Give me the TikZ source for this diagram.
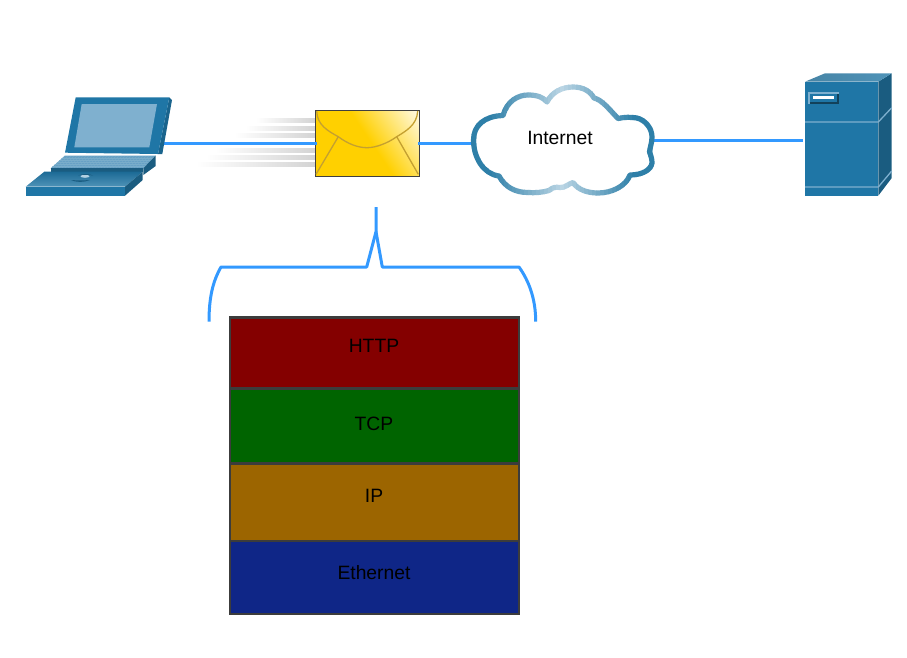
\documentclass[tikz,border=0pt]{standalone}
\usepackage{fontspec}
\setmainfont{Liberation Sans}
\definecolor{wireblue}{HTML}{3399FF}
\definecolor{ciscoblue}{HTML}{1F76A6}
\definecolor{ciscodark}{HTML}{1A5C80}
\definecolor{ciscolight}{HTML}{7FB0CF}
\definecolor{ciscotop}{HTML}{4F93B8}
\definecolor{clouddark}{HTML}{2E7FA8}
\definecolor{cloudlight}{HTML}{BAD5E4}
\definecolor{mailgold}{HTML}{FFD000}
\definecolor{mailpale}{HTML}{FFFBEA}
\definecolor{mailline}{HTML}{C4A030}
\definecolor{stackgray}{HTML}{3C3C3C}
\definecolor{layerred}{HTML}{840000}
\definecolor{layergreen}{HTML}{006400}
\definecolor{layerbrown}{HTML}{9C6500}
\definecolor{layerblue}{HTML}{0F2687}
\pgfdeclareverticalshading{mailshade}{100bp}{color(0bp)=(mailgold); color(52bp)=(mailgold); color(85bp)=(mailpale); color(100bp)=(mailpale)}
\newcommand{\cloudoutline}{(473.5,140)
    .. controls (473.5,125) and (485,116) .. (503,115.5)
    .. controls (507,101) and (518,95) .. (528,95)
    .. controls (537,95) and (543,97) .. (547,102)
    .. controls (552,92) and (562,87) .. (573,87)
    .. controls (583,87) and (590,91) .. (594,98)
    .. controls (602,100) and (608,108) .. (618,118.5)
    .. controls (625,117) and (630,117) .. (637,118)
    .. controls (645,120) and (652,128) .. (652,137)
    .. controls (652,143) and (650,147) .. (649.5,152)
    .. controls (651,156) and (652,159) .. (652,163)
    .. controls (651,170) and (642,175) .. (630,175)
    .. controls (626,186) and (612,193) .. (598,193)
    .. controls (588,193) and (578,190) .. (573,182.5)
    .. controls (568,184) and (565,188) .. (560,187.5)
    .. controls (556,187) and (553,187) .. (549,190.5)
    .. controls (542,192.5) and (535,193) .. (528,192.5)
    .. controls (515,192.5) and (505,187) .. (499,176)
    .. controls (483,174) and (473.5,157) .. (473.5,140) -- cycle}
\begin{document}
\begin{tikzpicture}[
    x=1pt, y=-1pt,
    wire/.style={draw=wireblue, line width=3pt},
    envelope/.style={draw=black!75, line width=1pt, minimum width=104pt, minimum height=66pt,
        inner sep=0pt, outer sep=0pt, shading=mailshade, shading angle=-56},
    layer/.style={draw=stackgray, line width=2.8pt, minimum width=289pt, inner sep=0pt, outer sep=0pt},
    layertext/.style={font=\fontsize{19.3}{22}\selectfont, text=black, inner sep=0pt},
    streak/.style={left color=white, right color=black!17, draw=none},
]
    \useasboundingbox (0,0) rectangle (907,657);

    % Ports
    \coordinate (laptopport) at (163,143);
    \coordinate (cloudleft) at (473,143);
    \coordinate (cloudright) at (654,140);
    \coordinate (serverport) at (803,140);

    % Mail streaks
    \foreach \ypos/\xstart in {120.7/256, 128.3/246, 135.7/235, 150/215, 157.3/206, 164.7/196} {
        \shade[streak] (\xstart,\ypos-2) rectangle (315,\ypos+2);
    }

    % Envelope
    \node[envelope] (mail) at (367,143) {};
    \draw[wire] (laptopport) -- ([xshift=2pt]mail.west);
    \draw[wire] ([xshift=-1pt]mail.east) -- (cloudleft);
    \draw[wire] (cloudright) -- (serverport);
    \draw[mailline, line width=1.3pt] (316.7,111) .. controls (317,125) and (328,131) .. (338.3,136.7)
        .. controls (348,144) and (358,147.7) .. (367,147.7)
        .. controls (376,147.7) and (388,143) .. (396.7,136.7)
        .. controls (406,131) and (417,125) .. (417.7,111);
    \draw[mailline, line width=1.3pt] (338.3,136.7) -- (316,174.3);
    \draw[mailline, line width=1.3pt] (396.7,136.7) -- (418.3,174.3);

    % Laptop
    \fill[ciscoblue!85!black] (169.3,97.3) -- (172,100) -- (162.3,154) -- (158,154) -- cycle;
    \fill[ciscoblue] (75.7,97.3) -- (169.3,97.3) -- (158,154) -- (65,152.7) -- cycle;
    \fill[ciscolight] (81.7,104) -- (157,104) -- (149.3,147.3) -- (74.3,147.3) -- cycle;
    \fill[ciscolight!75!ciscoblue] (65,155.5) -- (155.7,155.5) -- (143.3,168.3) -- (50.7,168.3) -- cycle;
    \begin{scope}
        \clip (65,155.5) -- (155.7,155.5) -- (143.3,168.3) -- (50.7,168.3) -- cycle;
        \foreach \xpos in {50,53,...,158} {
            \draw[ciscoblue!60, line width=0.3pt] (\xpos,168.3) -- (\xpos+12,156);
        }
        \foreach \ypos in {158,160,...,168} {
            \draw[ciscoblue!60, line width=0.3pt] (45,\ypos) -- (160,\ypos);
        }
    \end{scope}
    \fill[ciscodark] (155.7,155.5) -- (155.7,166) -- (143.3,175) -- (143.3,168.3) -- cycle;
    \fill[ciscodark] (50.7,168.3) -- (143.3,168.3) -- (143.3,172) -- (50.7,172) -- cycle;
    \shade[top color=ciscoblue!90!black, bottom color=ciscotop] (44.3,171.7) -- (142.7,171.7) -- (125,186.7) -- (25.7,186.7) -- cycle;
    \fill[ciscoblue] (25.7,186.7) -- (125,186.7) -- (125,195.7) -- (25.7,195.7) -- cycle;
    \fill[ciscodark] (125,186.7) -- (142.7,171.7) -- (142.7,180) -- (125,195.7) -- cycle;
    \fill[ciscodark] (71,180) .. controls (76,182.5) and (84,182.5) .. (90,180) .. controls (84,180.5) and (76,180.5) .. (71,180) -- cycle;
    \fill[ciscolight!60!white] (85,176.3) ellipse (4.5 and 1.5);
    \fill[ciscodark] (78,175.5) .. controls (82,173.5) and (90,173.5) .. (93,175.5) .. controls (88,174.6) and (82,174.6) .. (78,175.5) -- cycle;

    % Cloud, drawn in vertical bands
    \fill[white] \cloudoutline;
    \foreach \xpos in {468,472,...,656} {
        \pgfmathsetmacro\bandmix{min(100,100*abs(\xpos+2-562)/72)}
        \begin{scope}
            \clip (\xpos,70) rectangle (\xpos+4.3,205);
            \draw[clouddark!\bandmix!cloudlight, line width=5.2pt, line join=round] \cloudoutline;
        \end{scope}
    }
    \node[layertext] (internet) at (560,137.5) {Internet};

    % Server
    \fill[ciscodark] (878.3,81.7) -- (891.7,73.3) -- (891.7,178) -- (878.3,195.7) -- cycle;
    \shade[left color=ciscotop!90!black, right color=ciscotop] (805,81.7) -- (825,73.3) -- (891.7,73.3) -- (878.3,81.7) -- cycle;
    \fill[ciscoblue] (805,81.7) rectangle (878.3,195.7);
    \draw[ciscolight, line width=1.3pt] (805,122) -- (878.3,122) -- (891.7,107.7);
    \draw[ciscolight, line width=1.3pt] (805,187) -- (878.3,187) -- (891.7,171);
    \fill[ciscolight] (808.3,91.7) rectangle (839.3,104.3);
    \fill[ciscodark!70!black] (810.3,94) rectangle (839.3,104.3);
    \fill[ciscoblue] (810.3,94) rectangle (837.3,101.5);
    \fill[white] (813.3,96) rectangle (834.3,99.3);

    % Brace
    \draw[wireblue, line width=3pt, line join=round] (376,207) -- (376,231.7) -- (366.7,267) -- (221,267)
        .. controls (213,281) and (209,297) .. (209,321.7);
    \draw[wireblue, line width=3pt, line join=round] (376,231.7) -- (382.3,267) -- (519,267)
        .. controls (529,281) and (535.7,299) .. (535.7,321.7);

    % Stack
    \foreach \lname/\ymid/\hgt/\ytext/\lcol/\ltext in {
        http/353/71/345.5/layerred/HTTP,
        tcp/426/75/423.5/layergreen/TCP,
        ip/502.25/77.5/495.5/layerbrown/IP,
        ethernet/577.5/73/572.5/layerblue/Ethernet} {
        \node[layer, fill=\lcol, minimum height=\hgt] (\lname) at (374.5,\ymid) {};
        \node[layertext] (\lname text) at (374,\ytext) {\ltext};
    }
\end{tikzpicture}
\end{document}
